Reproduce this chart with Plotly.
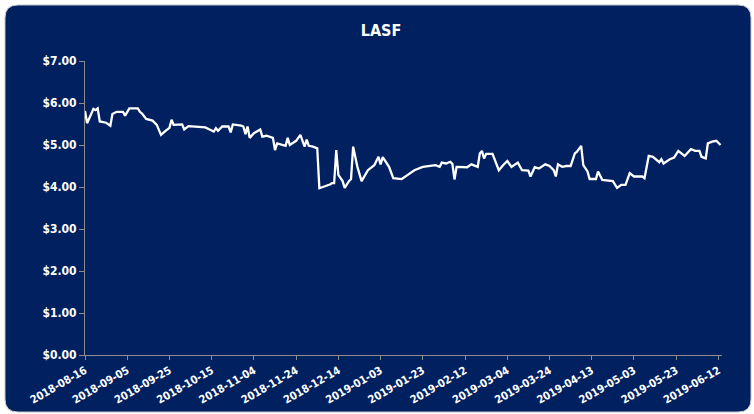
import pandas as pd
import plotly.graph_objects as go

start_date = "2018-08-16"
day_offsets = [0, 1, 4, 5, 6, 7, 10, 12, 13, 15, 18, 19, 21, 25, 26, 27, 29, 32, 34, 36,
               38, 40, 41, 42, 46, 47, 49, 54, 57, 59, 61, 62, 63, 65, 68, 69, 70, 74, 75, 76,
               77, 78, 80, 83, 84, 86, 89, 90, 91, 95, 96, 97, 100, 102, 104, 105, 106, 108, 110, 111,
               113, 116, 117, 118, 119, 120, 122, 123, 125, 126, 127, 129, 131, 134, 136, 137, 139, 140, 141, 144,
               146, 150, 152, 154, 156, 160, 164, 166, 168, 169, 171, 173, 174, 175, 176, 179, 181, 183, 186, 187,
               188, 189, 190, 193, 196, 198, 200, 202, 205, 207, 210, 211, 213, 215, 218, 220, 222, 223, 224, 226,
               228, 230, 232, 233, 235, 236, 238, 239, 242, 243, 245, 250, 252, 254, 256, 258, 260, 264, 265, 267,
               269, 272, 273, 274, 277, 279, 281, 284, 286, 287, 289, 291, 292, 294, 295, 297, 299, 301]
prices = [5.81, 5.52, 5.86, 5.83, 5.87, 5.56, 5.53, 5.46, 5.74, 5.79, 5.79, 5.70, 5.87, 5.87, 5.79, 5.75, 5.62, 5.58, 5.48, 5.24,
          5.33, 5.41, 5.60, 5.48, 5.49, 5.37, 5.45, 5.44, 5.42, 5.37, 5.32, 5.40, 5.34, 5.44, 5.44, 5.30, 5.49, 5.46, 5.44, 5.26,
          5.44, 5.17, 5.28, 5.37, 5.20, 5.22, 5.17, 4.88, 5.04, 4.98, 5.17, 5.00, 5.10, 5.24, 4.96, 5.13, 4.98, 4.96, 4.92, 3.97,
          4.00, 4.06, 4.09, 4.09, 4.88, 4.29, 4.14, 3.98, 4.14, 4.19, 4.96, 4.48, 4.14, 4.40, 4.48, 4.52, 4.72, 4.54, 4.71, 4.48,
          4.21, 4.19, 4.26, 4.34, 4.40, 4.48, 4.50, 4.52, 4.48, 4.58, 4.56, 4.60, 4.55, 4.18, 4.48, 4.47, 4.47, 4.54, 4.48, 4.80,
          4.86, 4.68, 4.79, 4.79, 4.40, 4.52, 4.62, 4.48, 4.58, 4.40, 4.39, 4.25, 4.47, 4.44, 4.54, 4.50, 4.40, 4.25, 4.54, 4.48,
          4.50, 4.50, 4.80, 4.84, 4.98, 4.52, 4.37, 4.19, 4.19, 4.37, 4.17, 4.14, 3.98, 4.05, 4.05, 4.33, 4.25, 4.25, 4.21, 4.74,
          4.72, 4.59, 4.66, 4.56, 4.66, 4.70, 4.86, 4.74, 4.84, 4.90, 4.86, 4.86, 4.72, 4.68, 5.04, 5.08, 5.10, 5.00]

tick_labels = ["2018-08-16", "2018-09-05", "2018-09-25", "2018-10-15", "2018-11-04", "2018-11-24",
               "2018-12-14", "2019-01-03", "2019-01-23", "2019-02-12", "2019-03-04", "2019-03-24",
               "2019-04-13", "2019-05-03", "2019-05-23", "2019-06-12"]
y_tick_vals = [0, 1, 2, 3, 4, 5, 6, 7]
y_tick_labels = ["$0.00", "$1.00", "$2.00", "$3.00", "$4.00", "$5.00", "$6.00", "$7.00"]

dates = pd.Timestamp(start_date) + pd.to_timedelta(day_offsets, unit="D")

W, H = 754, 414
ML, MR, MT, MB = 85, 32, 61, 59
pw, ph = W - ML - MR, H - MT - MB

def px_to_paper(x, y):
    return (x - ML) / pw, (H - MB - y) / ph

NAVY = "#002060"
FONT = "Liberation Sans Narrow, DejaVu Sans Condensed, Liberation Sans, Arial, sans-serif"

fig = go.Figure()
fig.add_trace(go.Scatter(x=dates, y=prices, mode="lines",
                         line=dict(color="white", width=2.3), hoverinfo="skip"))

# rounded panel background
x0, y0, x1, y1, r = 5, 5, 751, 412, 13
def P(x, y):
    a, b = px_to_paper(x, y)
    return f"{a:.5f},{b:.5f}"
path = (f"M {P(x0 + r, y0)} L {P(x1 - r, y0)} Q {P(x1, y0)} {P(x1, y0 + r)} "
        f"L {P(x1, y1 - r)} Q {P(x1, y1)} {P(x1 - r, y1)} "
        f"L {P(x0 + r, y1)} Q {P(x0, y1)} {P(x0, y1 - r)} "
        f"L {P(x0, y0 + r)} Q {P(x0, y0)} {P(x0 + r, y0)} Z")
fig.add_shape(type="path", path=path, xref="paper", yref="paper", layer="below",
              fillcolor=NAVY, line=dict(color="#c8c8c8", width=1))

tick_dates = [pd.Timestamp(t) for t in tick_labels]
x_end = pd.Timestamp(start_date) + pd.Timedelta(days=301.7)
bold = lambda labels: [f"<b>{t}</b>" for t in labels]

fig.update_layout(
    width=W, height=H,
    margin=dict(l=ML, r=MR, t=MT, b=MB),
    paper_bgcolor="white",
    plot_bgcolor="rgba(0,0,0,0)",
    showlegend=False,
    title=dict(text="<b>LASF</b>", x=381 / W, xref="container", xanchor="center",
               y=1 - 30 / H, yref="container", yanchor="middle",
               font=dict(family=FONT, size=16, color="white")),
    xaxis=dict(range=[pd.Timestamp(start_date), x_end], tickvals=tick_dates, ticktext=bold(tick_labels),
               tickangle=-30, showgrid=False, zeroline=False, showline=True, linecolor="#8c8c8c",
               linewidth=1, ticks="outside", ticklen=4, tickcolor="#8c8c8c", automargin=False,
               tickfont=dict(family=FONT, size=11, color="white"), fixedrange=True),
    yaxis=dict(range=[0, 7], tickvals=y_tick_vals, ticktext=bold(y_tick_labels),
               showgrid=False, zeroline=False, showline=True, linecolor="#8c8c8c", linewidth=1,
               ticks="outside", ticklen=5, tickcolor="#8c8c8c", automargin=False,
               tickfont=dict(family=FONT, size=12, color="white"), fixedrange=True),
)

fig.write_html("out.html")
